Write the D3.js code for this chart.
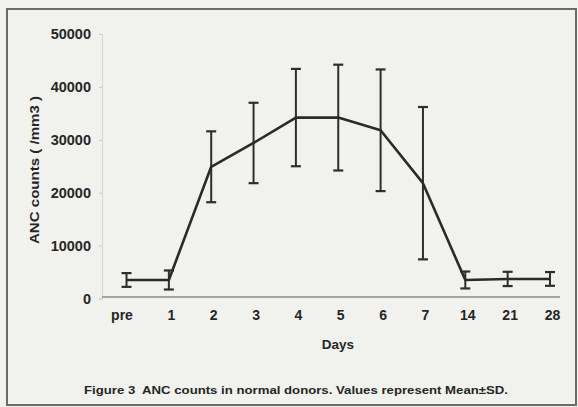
<!DOCTYPE html>
<html>
<head>
<meta charset="utf-8">
<script src="https://cdn.jsdelivr.net/npm/d3@7"></script>
<style>
  html, body { margin: 0; padding: 0; background: #f1f1ee; }
  svg { display: block; }
  text { font-family: "Liberation Sans", Arial, sans-serif; font-weight: bold; fill: #262626; }
</style>
</head>
<body>
<svg id="chart" width="578" height="407"></svg>
<script>
// Absolute neutrophil counts per sampling day (mean and standard deviation, /mm3)
const days = ["pre", "1", "2", "3", "4", "5", "6", "7", "14", "21", "28"];
const meanANC = [3500, 3500, 24900, 29400, 34200, 34200, 31800, 21800, 3500, 3700, 3700];
const sdANC = [1300, 1800, 6700, 7600, 9200, 10000, 11500, 14400, 1600, 1350, 1300];
const yTicks = [0, 10000, 20000, 30000, 40000, 50000];

const svg = d3.select("#chart");

// outer frame
svg.append("rect")
  .attr("x", 7).attr("y", 9).attr("width", 569).attr("height", 396)
  .attr("fill", "#f1f1ee").attr("stroke", "#6a6a6a").attr("stroke-width", 2);

const x = d3.scalePoint().domain(days).range([126.5, 550]);
const y = d3.scaleLinear().domain([0, 50000]).range([298.5, 34]);

// y axis (faint line with small ticks, labels to the left)
const yAxis = d3.axisLeft(y).tickValues(yTicks).tickSize(3).tickPadding(8)
  .tickFormat(d3.format("d"));
const gy = svg.append("g").attr("transform", "translate(102,0)").call(yAxis);
gy.select(".domain").attr("stroke", "#d2d2cf").attr("stroke-width", 1);
gy.selectAll(".tick line").attr("stroke", "#c8c8c5");
gy.selectAll(".tick text").style("font-size", "14.5px").attr("fill", "#262626");

// x axis baseline with day labels
const xAxis = d3.axisBottom(x).tickSize(0).tickPadding(13);
const gx = svg.append("g").attr("transform", `translate(0,${y(0) - 1.5})`).call(xAxis);
gx.select(".domain").attr("d", "M102,0H560").attr("stroke", "#8a8a88").attr("stroke-width", 1.5);
gx.selectAll(".tick text").style("font-size", "14px").attr("fill", "#262626")
  .attr("dx", d => (d === "pre" ? -5 : 2));

// axis titles
svg.append("text")
  .attr("x", 338).attr("y", 349).attr("text-anchor", "middle")
  .style("font-size", "13.5px").text("Days");
svg.append("text")
  .attr("transform", "translate(39,170) rotate(-90)")
  .attr("text-anchor", "middle").style("font-size", "13.5px")
  .style("white-space", "pre")
  .attr("textLength", 148).attr("lengthAdjust", "spacingAndGlyphs")
  .text("ANC counts ( /mm3 )");

// error bars (mean ± SD)
const cap = 5;
const bars = svg.append("g").attr("stroke", "#2e2e2e").attr("fill", "none");
days.forEach((d, i) => {
  const cx = x(d);
  const top = y(meanANC[i] + sdANC[i]);
  const bot = y(meanANC[i] - sdANC[i]);
  bars.append("line").attr("x1", cx).attr("x2", cx).attr("y1", top).attr("y2", bot).attr("stroke-width", 2);
  bars.append("line").attr("x1", cx - cap).attr("x2", cx + cap).attr("y1", top).attr("y2", top).attr("stroke-width", 2.2);
  bars.append("line").attr("x1", cx - cap).attr("x2", cx + cap).attr("y1", bot).attr("y2", bot).attr("stroke-width", 2.2);
});

// mean line
const line = d3.line().x((d, i) => x(days[i])).y(d => y(d));
svg.append("path")
  .datum(meanANC)
  .attr("d", line)
  .attr("fill", "none")
  .attr("stroke", "#2a2a2a")
  .attr("stroke-width", 2.6)
  .attr("stroke-linejoin", "round");

// caption
svg.append("text")
  .attr("x", 296).attr("y", 394).attr("text-anchor", "middle")
  .style("font-size", "11px")
  .style("white-space", "pre")
  .attr("textLength", 424).attr("lengthAdjust", "spacingAndGlyphs")
  .text("Figure 3  ANC counts in normal donors. Values represent Mean±SD.");
</script>
</body>
</html>
